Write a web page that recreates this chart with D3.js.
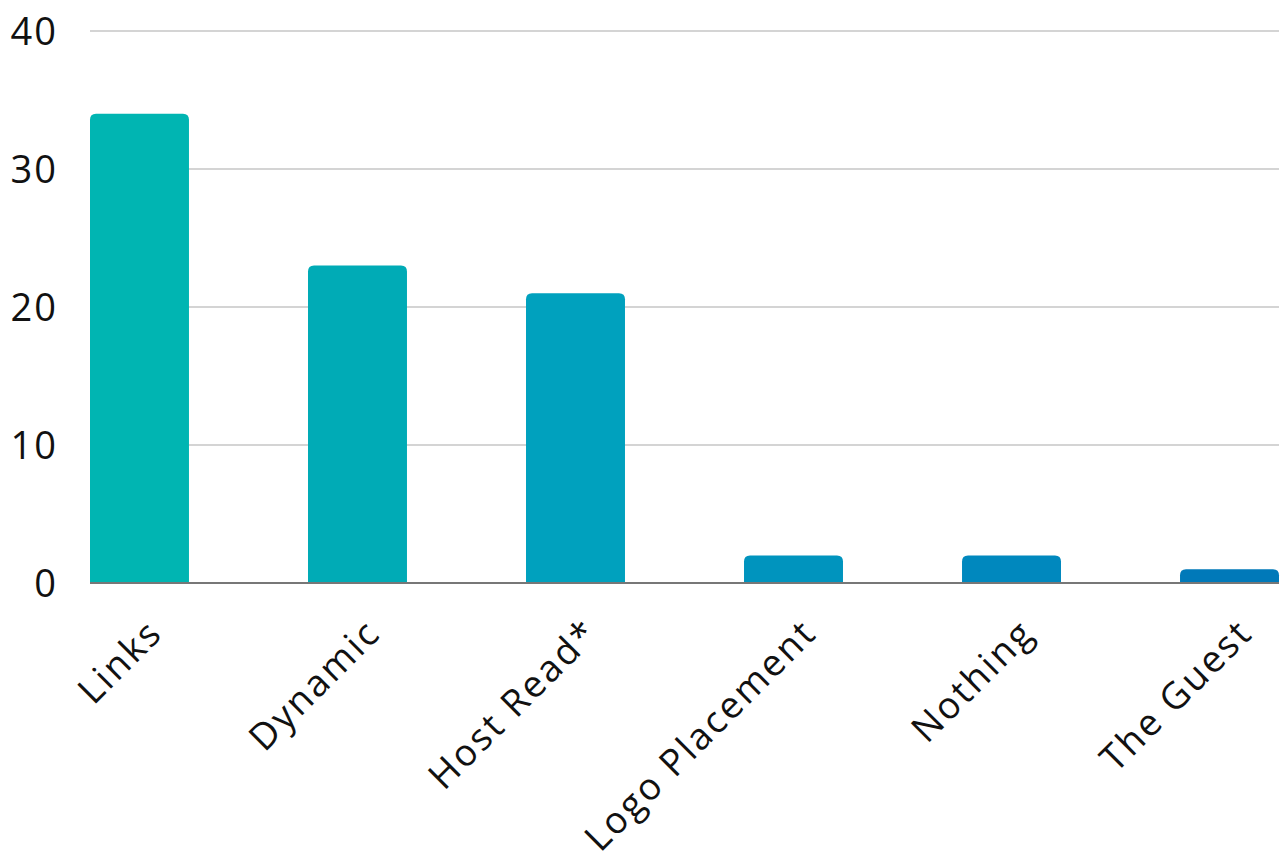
<!DOCTYPE html>
<html>
<head>
<meta charset="utf-8">
<script src="https://cdn.jsdelivr.net/npm/d3@7"></script>
<style>
  body { margin: 0; background: #fff; }
  text { font-family: "Open Sans", sans-serif; }
</style>
</head>
<body>
<div id="chart"></div>
<script>
var margin = { top: 31, right: 6, bottom: 282, left: 90 }
var width = 1285 - margin.left - margin.right
var height = 865 - margin.top - margin.bottom

var categories = ["Links", "Dynamic", "Host Read*", "Logo Placement", "Nothing", "The Guest"]
var values = [34, 23, 21, 2, 2, 1]
var barColors = ["#00b5b2", "#00abb6", "#00a1be", "#0094be", "#0088be", "#0079b9"]
var yTicks = [0, 10, 20, 30, 40]

var svg = d3.select("#chart").append("svg")
  .attr("width", 1285)
  .attr("height", 865)
  .append("g")
  .attr("transform", "translate(" + margin.left + "," + margin.top + ")")

var x = d3.scaleBand()
  .domain(categories)
  .range([0, width])
  .paddingInner(0.546)
  .paddingOuter(0)

var y = d3.scaleLinear()
  .domain([0, 40])
  .range([height, 0])

// gridlines
svg.selectAll(".grid")
  .data(yTicks.slice(1))
  .enter().append("line")
  .attr("x1", 0)
  .attr("x2", width)
  .attr("y1", d => y(d))
  .attr("y2", d => y(d))
  .attr("stroke", "#c6c6c6")
  .attr("stroke-width", 1.3)

// y labels
svg.selectAll(".ylab")
  .data(yTicks)
  .enter().append("text")
  .attr("x", -32)
  .attr("y", d => y(d) + 14)
  .attr("text-anchor", "end")
  .attr("font-size", 38)
  .attr("letter-spacing", 2)
  .attr("fill", "#111")
  .text(d => d)

// bars with rounded top
var r = 6
svg.selectAll(".bar")
  .data(values)
  .enter().append("path")
  .attr("fill", (d, i) => barColors[i])
  .attr("d", function (d, i) {
    var x0 = x(categories[i]), w = x.bandwidth()
    var y0 = y(d), yb = y(0)
    var rr = Math.min(r, (yb - y0))
    return "M" + x0 + "," + yb +
      "V" + (y0 + rr) +
      "Q" + x0 + "," + y0 + " " + (x0 + rr) + "," + y0 +
      "H" + (x0 + w - rr) +
      "Q" + (x0 + w) + "," + y0 + " " + (x0 + w) + "," + (y0 + rr) +
      "V" + yb + "Z"
  })

// baseline
svg.append("line")
  .attr("x1", 0)
  .attr("x2", width)
  .attr("y1", y(0))
  .attr("y2", y(0))
  .attr("stroke", "#777")
  .attr("stroke-width", 2)

// category labels
svg.selectAll(".xlab")
  .data(categories)
  .enter().append("text")
  .attr("text-anchor", "end")
  .attr("font-size", 37)
  .attr("letter-spacing", 2.4)
  .attr("fill", "#111")
  .attr("transform", function (d) {
    var cx = x(d) + x.bandwidth() / 2 + 25
    var cy = y(0) + 52
    return "translate(" + cx + "," + cy + ") rotate(-45)"
  })
  .text(d => d)
</script>
</body>
</html>
